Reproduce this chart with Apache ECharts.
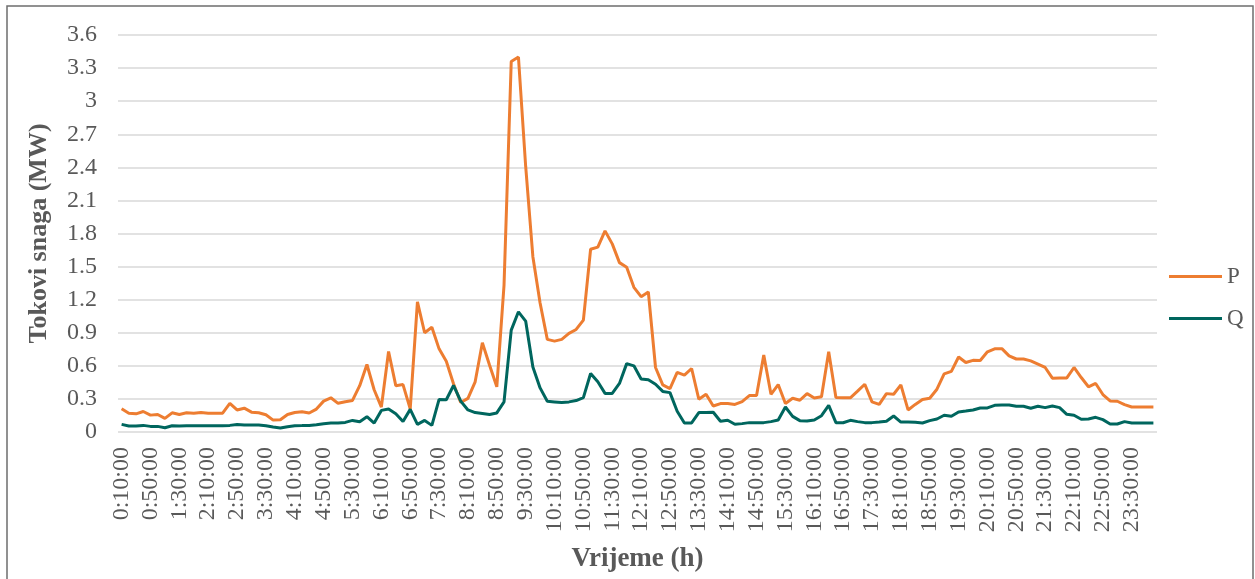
<!DOCTYPE html>
<html>
<head>
<meta charset="utf-8">
<title>Tokovi snaga</title>
<script src="https://cdn.jsdelivr.net/npm/echarts@6/dist/echarts.min.js"></script>
<style>
html,body{margin:0;padding:0;background:#fff;}
#main{width:1255px;height:579px;}
</style>
</head>
<body>
<div id="main"></div>
<script>
// vremena 0:10:00 ... 23:50:00, 0:00:00 (korak 10 min)
var vremena = [];
for (var m = 10; m <= 1440; m += 10) {
    var h = Math.floor(m / 60) % 24;
    var mm = m % 60;
    vremena.push(h + ':' + (mm < 10 ? '0' : '') + mm + ':00');
}

// radna snaga P (MW)
var snagaP = [
    0.21,0.17,0.165,0.186,0.153,0.159,0.123,0.174,0.159,0.174,0.171,0.177,0.171,0.171,0.171,0.26,0.2,0.216,0.18,0.174,0.156,0.108,0.111,0.159,0.177,0.184,
    0.172,0.208,0.28,0.31,0.26,0.274,0.286,0.42,0.612,0.383,0.226,0.73,0.42,0.43,0.21,1.18,0.9,0.95,0.754,0.642,0.437,0.268,0.305,0.455,0.81,
    0.606,0.41,1.33,3.36,3.4,2.41,1.59,1.17,0.84,0.824,0.84,0.894,0.93,1.015,1.657,1.676,1.824,1.706,1.536,1.494,1.312,1.227,1.27,0.585,0.427,
    0.394,0.54,0.515,0.576,0.297,0.342,0.236,0.258,0.258,0.25,0.276,0.33,0.33,0.697,0.342,0.43,0.258,0.306,0.288,0.348,0.309,0.32,0.727,0.312,0.31,
    0.31,0.37,0.433,0.273,0.25,0.348,0.342,0.427,0.2,0.25,0.294,0.306,0.388,0.527,0.55,0.68,0.63,0.65,0.648,0.727,0.754,0.756,0.69,0.662,0.662,
    0.645,0.615,0.585,0.488,0.49,0.49,0.585,0.494,0.41,0.44,0.34,0.282,0.279,0.248,0.227,0.227,0.227,0.227
];

// jalova snaga Q (MW)
var snagaQ = [
    0.069,0.054,0.054,0.06,0.051,0.051,0.039,0.057,0.054,0.057,0.057,0.057,0.057,0.057,0.057,0.06,0.069,0.063,0.063,0.063,0.057,0.045,0.036,0.048,0.057,0.058,
    0.06,0.066,0.075,0.081,0.081,0.087,0.105,0.093,0.139,0.081,0.196,0.208,0.166,0.096,0.205,0.069,0.105,0.06,0.295,0.292,0.422,0.28,0.2,0.176,0.168,
    0.158,0.173,0.273,0.924,1.09,1.006,0.59,0.4,0.279,0.273,0.267,0.273,0.285,0.312,0.53,0.455,0.35,0.35,0.44,0.62,0.6,0.48,0.473,0.433,0.368,
    0.357,0.188,0.082,0.082,0.176,0.176,0.179,0.097,0.106,0.07,0.076,0.085,0.085,0.085,0.094,0.109,0.227,0.142,0.103,0.1,0.109,0.148,0.242,0.085,0.084,
    0.106,0.094,0.085,0.085,0.09,0.097,0.145,0.09,0.09,0.088,0.082,0.103,0.118,0.152,0.142,0.182,0.19,0.2,0.218,0.218,0.242,0.244,0.245,0.233,0.233,
    0.215,0.233,0.221,0.236,0.221,0.16,0.152,0.115,0.118,0.133,0.112,0.073,0.073,0.094,0.082,0.082,0.082,0.082
];

var font = "'Liberation Serif','Times New Roman',serif";
var sivo = '#595959';

var myChart = echarts.init(document.getElementById('main'));

var option = {
    backgroundColor: '#fff',
    animation: false,
    textStyle: { fontFamily: font },
    graphic: [{
        type: 'rect',
        shape: { x: 7, y: 6, width: 1246, height: 590 },
        style: { fill: 'none', stroke: '#6e6e6e', lineWidth: 1.5 },
        silent: true
    }],
    grid: {
        left: 118,
        right: 98,
        top: 35,
        bottom: 147
    },
    legend: [{
        data: [{ name: 'P', icon: 'rect' }],
        left: 1164,
        top: 260,
        itemWidth: 53,
        itemHeight: 3,
        itemGap: 4,
        textStyle: { fontFamily: font, fontSize: 23, color: sivo }
    }, {
        data: [{ name: 'Q', icon: 'rect' }],
        left: 1164,
        top: 302,
        itemWidth: 53,
        itemHeight: 3,
        itemGap: 4,
        textStyle: { fontFamily: font, fontSize: 23, color: sivo }
    }],
    xAxis: {
        type: 'category',
        data: vremena,
        boundaryGap: true,
        name: 'Vrijeme (h)',
        nameLocation: 'middle',
        nameGap: 114,
        nameTextStyle: { fontFamily: font, fontSize: 27, fontWeight: 'bold', color: sivo },
        axisLine: { show: false },
        axisTick: { show: false },
        axisLabel: {
            interval: 3,
            rotate: 90,
            margin: 15,
            fontFamily: font,
            fontSize: 24,
            color: sivo
        }
    },
    yAxis: {
        type: 'value',
        min: 0,
        max: 3.6,
        interval: 0.3,
        name: 'Tokovi snaga (MW)',
        nameLocation: 'middle',
        nameGap: 66,
        nameTextStyle: { fontFamily: font, fontSize: 26, fontWeight: 'bold', color: sivo },
        axisLine: { show: false },
        axisTick: { show: false },
        axisLabel: {
            margin: 21,
            fontFamily: font,
            fontSize: 24,
            color: sivo,
            formatter: function (v) { return String(Math.round(v * 10) / 10); }
        },
        splitLine: { lineStyle: { color: '#d9d9d9', width: 1.5 } }
    },
    series: [{
        name: 'P',
        type: 'line',
        data: snagaP,
        symbol: 'none',
        lineStyle: { color: '#ED7D31', width: 3 },
        itemStyle: { color: '#ED7D31' }
    }, {
        name: 'Q',
        type: 'line',
        data: snagaQ,
        symbol: 'none',
        lineStyle: { color: '#00665E', width: 3 },
        itemStyle: { color: '#00665E' }
    }]
};
myChart.setOption(option, true);
</script>
</body>
</html>
